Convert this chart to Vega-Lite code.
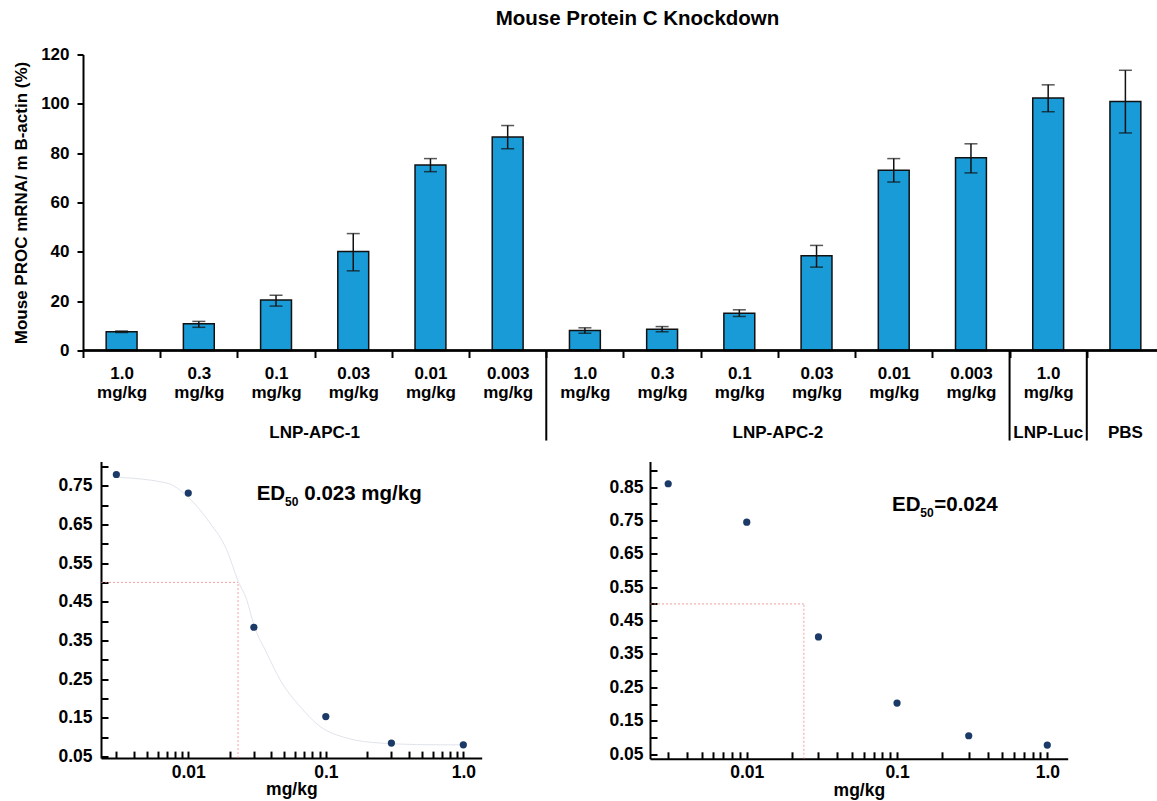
{
  "$schema": "https://vega.github.io/schema/vega-lite/v6.json",
  "padding": {"left": 12, "top": 8.5, "right": 0, "bottom": 0},
  "config": {
    "view": {"stroke": null},
    "font": "Liberation Sans",
    "axis": {"labelColor": "#000", "titleColor": "#000", "domainColor": "#000", "tickColor": "#000", "grid": false, "labelFontWeight": "bold", "titleFontWeight": "bold", "labelOverlap": false, "labelSeparation": 0},
    "axisQuantitative": {"labelOverlap": false}
  },
  "datasets": {
    "bars": [
      {"id": "APC1_1.0", "group": "LNP-APC-1", "dose": "1.0", "value": 7.6, "lo": 7.3, "hi": 7.9},
      {"id": "APC1_0.3", "group": "LNP-APC-1", "dose": "0.3", "value": 10.8, "lo": 9.4, "hi": 11.8},
      {"id": "APC1_0.1", "group": "LNP-APC-1", "dose": "0.1", "value": 20.5, "lo": 18.0, "hi": 22.4},
      {"id": "APC1_0.03", "group": "LNP-APC-1", "dose": "0.03", "value": 40.1, "lo": 32.3, "hi": 47.4},
      {"id": "APC1_0.01", "group": "LNP-APC-1", "dose": "0.01", "value": 75.2, "lo": 72.5, "hi": 77.8},
      {"id": "APC1_0.003", "group": "LNP-APC-1", "dose": "0.003", "value": 86.6, "lo": 81.8, "hi": 91.2},
      {"id": "APC2_1.0", "group": "LNP-APC-2", "dose": "1.0", "value": 8.1, "lo": 7.0, "hi": 9.2},
      {"id": "APC2_0.3", "group": "LNP-APC-2", "dose": "0.3", "value": 8.6, "lo": 7.6, "hi": 9.7},
      {"id": "APC2_0.1", "group": "LNP-APC-2", "dose": "0.1", "value": 15.1, "lo": 13.8, "hi": 16.5},
      {"id": "APC2_0.03", "group": "LNP-APC-2", "dose": "0.03", "value": 38.4, "lo": 33.8, "hi": 42.6},
      {"id": "APC2_0.01", "group": "LNP-APC-2", "dose": "0.01", "value": 73.1, "lo": 68.3, "hi": 77.8},
      {"id": "APC2_0.003", "group": "LNP-APC-2", "dose": "0.003", "value": 78.1, "lo": 72.0, "hi": 83.8},
      {"id": "Luc_1.0", "group": "LNP-Luc", "dose": "1.0", "value": 102.4, "lo": 96.8, "hi": 107.7},
      {"id": "PBS", "group": "PBS", "dose": "", "value": 100.9, "lo": 88.2, "hi": 113.6}
    ],
    "dividers": [{"id": "APC2_1.0"}, {"id": "Luc_1.0"}, {"id": "PBS"}],
    "groupsWide": [{"label": "LNP-APC-1", "id": "APC1_0.1"}, {"label": "LNP-APC-2", "id": "APC2_0.1"}],
    "groupsNarrow": [{"label": "LNP-Luc", "id": "Luc_1.0"}, {"label": "PBS", "id": "PBS"}],
    "fit1": [
      {"dose": 0.003, "resp": 0.772},
      {"dose": 0.00697, "resp": 0.757},
      {"dose": 0.01, "resp": 0.72},
      {"dose": 0.01439, "resp": 0.6535},
      {"dose": 0.01902, "resp": 0.5845},
      {"dose": 0.0231, "resp": 0.5025},
      {"dose": 0.0266, "resp": 0.4552},
      {"dose": 0.03, "resp": 0.39},
      {"dose": 0.0372, "resp": 0.3174},
      {"dose": 0.0465, "resp": 0.2483},
      {"dose": 0.0649, "resp": 0.179},
      {"dose": 0.0907, "resp": 0.1276},
      {"dose": 0.142, "resp": 0.0975},
      {"dose": 0.248, "resp": 0.0846},
      {"dose": 0.573, "resp": 0.0802},
      {"dose": 1.0, "resp": 0.0798}
    ],
    "pts1": [
      {"dose": 0.003, "resp": 0.779},
      {"dose": 0.01, "resp": 0.731},
      {"dose": 0.03, "resp": 0.384},
      {"dose": 0.1, "resp": 0.153},
      {"dose": 0.3, "resp": 0.0845},
      {"dose": 1.0, "resp": 0.080}
    ],
    "pts2": [
      {"dose": 0.003, "resp": 0.86},
      {"dose": 0.01, "resp": 0.745},
      {"dose": 0.03, "resp": 0.401},
      {"dose": 0.1, "resp": 0.203},
      {"dose": 0.3, "resp": 0.105},
      {"dose": 1.0, "resp": 0.077}
    ],
    "ed1": [{"ed50": 0.023, "half": 0.5, "xmin": 0.00232, "ymin": 0.0456}],
    "ed2": [{"ed50": 0.024, "half": 0.5, "xmin": 0.00227, "ymin": 0.0359}],
    "ann1Big": [{"x": 0.03144, "y": 0.7138, "t": "ED"}, {"x": 0.0698, "y": 0.7138, "t": "0.023 mg/kg"}],
    "ann1Sub": [{"x": 0.0505, "y": 0.6965, "t": "50"}],
    "ann2Big": [{"x": 0.09262, "y": 0.779, "t": "ED"}, {"x": 0.177, "y": 0.779, "t": "=0.024"}],
    "ann2Sub": [{"x": 0.1429, "y": 0.760, "t": "50"}]
  },
  "spacing": 14,
  "vconcat": [
    {
      "width": 1074,
      "height": 296,
      "title": {"text": "Mouse Protein C Knockdown", "fontSize": 20.5, "fontWeight": "bold", "color": "#000", "frame": "group", "anchor": "middle", "dx": 17.5, "offset": 16},
      "layer": [
        {
          "data": {"name": "bars"},
          "mark": {"type": "bar", "width": {"band": 0.4}, "fill": "#189bd7", "stroke": "#111", "strokeWidth": 1.5},
          "encoding": {
            "x": {
              "field": "id", "type": "nominal", "sort": null,
              "scale": {"domain": ["APC1_1.0", "APC1_0.3", "APC1_0.1", "APC1_0.03", "APC1_0.01", "APC1_0.003", "APC2_1.0", "APC2_0.3", "APC2_0.1", "APC2_0.03", "APC2_0.01", "APC2_0.003", "Luc_1.0", "PBS"], "range": [0, 1081], "paddingInner": 0, "paddingOuter": 0},
              "axis": {"title": null, "orient": "bottom", "ticks": true, "tickBand": "extent", "tickSize": 7, "tickWidth": 2, "domain": false, "labelAngle": 0, "labelFontSize": 17, "labelPadding": 8, "labelLineHeight": 19, "labelFlush": false, "labelOverlap": false,
                "values": ["APC1_1.0", "APC1_0.3", "APC1_0.1", "APC1_0.03", "APC1_0.01", "APC1_0.003", "APC2_1.0", "APC2_0.3", "APC2_0.1", "APC2_0.03", "APC2_0.01", "APC2_0.003", "Luc_1.0"],
                "labelExpr": "isString(datum.value) && indexof(datum.value, '_') >= 0 ? [split(datum.value, '_')[1], 'mg/kg'] : ''"}
            },
            "y": {
              "field": "value", "type": "quantitative",
              "scale": {"domain": [0, 120], "nice": false},
              "axis": {"title": "Mouse PROC mRNA/ m B-actin (%)", "titleFontSize": 17, "titlePadding": 10, "values": [0, 20, 40, 60, 80, 100, 120], "tickCount": 100, "labelFontSize": 17, "tickSize": 6, "tickWidth": 2, "domainWidth": 2, "labelPadding": 8}
            }
          }
        },
        {
          "data": {"name": "bars"},
          "mark": {"type": "rule", "color": "#111", "strokeWidth": 1.5},
          "encoding": {
            "x": {"field": "id", "type": "nominal"},
            "y": {"field": "lo", "type": "quantitative"},
            "y2": {"field": "hi"}
          }
        },
        {
          "data": {"name": "bars"},
          "mark": {"type": "tick", "color": "#111", "size": 13, "thickness": 1.5},
          "encoding": {
            "x": {"field": "id", "type": "nominal"},
            "y": {"field": "lo", "type": "quantitative"}
          }
        },
        {
          "data": {"name": "bars"},
          "mark": {"type": "tick", "color": "#111", "size": 13, "thickness": 1.5},
          "encoding": {
            "x": {"field": "id", "type": "nominal"},
            "y": {"field": "hi", "type": "quantitative"}
          }
        },
        {
          "data": {"name": "dividers"},
          "mark": {"type": "rule", "color": "#000", "strokeWidth": 2},
          "encoding": {"y": {"datum": 0}}
        },
        {
          "data": {"name": "dividers"},
          "mark": {"type": "rule", "color": "#000", "strokeWidth": 2},
          "encoding": {
            "x": {"field": "id", "type": "nominal", "bandPosition": 0},
            "y": {"datum": 0},
            "y2": {"datum": -36.5}
          }
        },
        {
          "data": {"name": "groupsWide"},
          "mark": {"type": "text", "fontSize": 17, "fontWeight": "bold", "color": "#000", "baseline": "alphabetic", "align": "center"},
          "encoding": {
            "x": {"field": "id", "type": "nominal", "bandPosition": 1},
            "y": {"datum": -35.3},
            "text": {"field": "label"}
          }
        },
        {
          "data": {"name": "groupsNarrow"},
          "mark": {"type": "text", "fontSize": 17, "fontWeight": "bold", "color": "#000", "baseline": "alphabetic", "align": "center"},
          "encoding": {
            "x": {"field": "id", "type": "nominal", "bandPosition": 0.5},
            "y": {"datum": -35.3},
            "text": {"field": "label"}
          }
        }
      ]
    },
    {
      "spacing": 126,
      "hconcat": [
        {
          "width": 398.7,
          "height": 296.6,
          "layer": [
            {
              "data": {"name": "fit1"},
              "mark": {"type": "line", "color": "#e1e4ec", "strokeWidth": 1, "interpolate": "monotone"},
              "encoding": {
                "x": {"field": "dose", "type": "quantitative",
                  "scale": {"type": "log", "domain": [0.00232, 1.36], "nice": false, "range": [18, 398.7]},
                  "axis": {"title": "mg/kg", "titleFontSize": 17.5, "titlePadding": 0, "labelFontSize": 17.5, "tickSize": -7, "tickWidth": 2, "domainWidth": 2, "labelPadding": 12, "labelOverlap": false, "labelFlush": false, "tickCount": 100,
                    "values": [0.003, 0.004, 0.005, 0.006, 0.007, 0.008, 0.009, 0.01, 0.02, 0.03, 0.04, 0.05, 0.06, 0.07, 0.08, 0.09, 0.1, 0.2, 0.3, 0.4, 0.5, 0.6, 0.7, 0.8, 0.9, 1],
                    "labelExpr": "datum.value == 0.01 ? '0.01' : datum.value == 0.1 ? '0.1' : datum.value == 1 ? '1.0' : ''"}},
                "y": {"field": "resp", "type": "quantitative",
                  "scale": {"domain": [0.0456, 0.8126], "nice": false, "zero": false},
                  "axis": {"title": null, "offset": -18, "labelFontSize": 17.5, "tickSize": -7, "tickWidth": 2, "domainWidth": 2, "labelPadding": 16, "labelOverlap": false, "labelFlush": false, "labelBound": false, "tickCount": 100,
                    "values": [0.05, 0.1, 0.15, 0.2, 0.25, 0.3, 0.35, 0.4, 0.45, 0.5, 0.55, 0.6, 0.65, 0.7, 0.75, 0.8],
                    "labelExpr": "indexof(['0.05','0.15','0.25','0.35','0.45','0.55','0.65','0.75','0.85'], format(datum.value, '.2f')) >= 0 ? format(datum.value, '.2f') : ''"}}
              }
            },
            {
              "data": {"name": "ed1"},
              "mark": {"type": "rule", "color": "#f07878", "strokeWidth": 1, "strokeDash": [2, 2], "opacity": 0.7},
              "encoding": {
                "x": {"field": "xmin", "type": "quantitative"},
                "x2": {"field": "ed50"},
                "y": {"field": "half", "type": "quantitative"}
              }
            },
            {
              "data": {"name": "ed1"},
              "mark": {"type": "rule", "color": "#f07878", "strokeWidth": 1, "strokeDash": [2, 2], "opacity": 0.7},
              "encoding": {
                "x": {"field": "ed50", "type": "quantitative"},
                "y": {"field": "ymin", "type": "quantitative"},
                "y2": {"field": "half"}
              }
            },
            {
              "data": {"name": "pts1"},
              "mark": {"type": "circle", "color": "#1b3a68", "size": 52, "opacity": 1},
              "encoding": {
                "x": {"field": "dose", "type": "quantitative"},
                "y": {"field": "resp", "type": "quantitative"}
              }
            },
            {
              "data": {"name": "ann1Big"},
              "mark": {"type": "text", "fontSize": 20.5, "fontWeight": "bold", "color": "#000", "align": "left", "baseline": "alphabetic"},
              "encoding": {
                "x": {"field": "x", "type": "quantitative"},
                "y": {"field": "y", "type": "quantitative"},
                "text": {"field": "t"}
              }
            },
            {
              "data": {"name": "ann1Sub"},
              "mark": {"type": "text", "fontSize": 12, "fontWeight": "bold", "color": "#000", "align": "left", "baseline": "alphabetic"},
              "encoding": {
                "x": {"field": "x", "type": "quantitative"},
                "y": {"field": "y", "type": "quantitative"},
                "text": {"field": "t"}
              }
            }
          ]
        },
        {
          "width": 417.7,
          "height": 297.3,
          "layer": [
            {
              "data": {"name": "pts2"},
              "mark": {"type": "circle", "color": "#1b3a68", "size": 52, "opacity": 1},
              "encoding": {
                "x": {"field": "dose", "type": "quantitative",
                  "scale": {"type": "log", "domain": [0.00227, 1.367], "nice": false},
                  "axis": {"title": "mg/kg", "titleFontSize": 17.5, "titlePadding": 0, "labelFontSize": 17.5, "tickSize": -7, "tickWidth": 2, "domainWidth": 2, "labelPadding": 12, "labelOverlap": false, "labelFlush": false, "tickCount": 100,
                    "values": [0.003, 0.004, 0.005, 0.006, 0.007, 0.008, 0.009, 0.01, 0.02, 0.03, 0.04, 0.05, 0.06, 0.07, 0.08, 0.09, 0.1, 0.2, 0.3, 0.4, 0.5, 0.6, 0.7, 0.8, 0.9, 1],
                    "labelExpr": "datum.value == 0.01 ? '0.01' : datum.value == 0.1 ? '0.1' : datum.value == 1 ? '1.0' : ''"}},
                "y": {"field": "resp", "type": "quantitative",
                  "scale": {"domain": [0.0359, 0.9267], "nice": false, "zero": false},
                  "axis": {"title": null, "labelFontSize": 17.5, "tickSize": -7, "tickWidth": 2, "domainWidth": 2, "labelPadding": 14, "labelOverlap": false, "labelFlush": false, "labelBound": false, "tickCount": 100,
                    "values": [0.05, 0.1, 0.15, 0.2, 0.25, 0.3, 0.35, 0.4, 0.45, 0.5, 0.55, 0.6, 0.65, 0.7, 0.75, 0.8, 0.85, 0.9],
                    "labelExpr": "indexof(['0.05','0.15','0.25','0.35','0.45','0.55','0.65','0.75','0.85'], format(datum.value, '.2f')) >= 0 ? format(datum.value, '.2f') : ''"}}
              }
            },
            {
              "data": {"name": "ed2"},
              "mark": {"type": "rule", "color": "#f07878", "strokeWidth": 1, "strokeDash": [2, 2], "opacity": 0.7},
              "encoding": {
                "x": {"field": "xmin", "type": "quantitative"},
                "x2": {"field": "ed50"},
                "y": {"field": "half", "type": "quantitative"}
              }
            },
            {
              "data": {"name": "ed2"},
              "mark": {"type": "rule", "color": "#f07878", "strokeWidth": 1, "strokeDash": [2, 2], "opacity": 0.7},
              "encoding": {
                "x": {"field": "ed50", "type": "quantitative"},
                "y": {"field": "ymin", "type": "quantitative"},
                "y2": {"field": "half"}
              }
            },
            {
              "data": {"name": "ann2Big"},
              "mark": {"type": "text", "fontSize": 20.5, "fontWeight": "bold", "color": "#000", "align": "left", "baseline": "alphabetic"},
              "encoding": {
                "x": {"field": "x", "type": "quantitative"},
                "y": {"field": "y", "type": "quantitative"},
                "text": {"field": "t"}
              }
            },
            {
              "data": {"name": "ann2Sub"},
              "mark": {"type": "text", "fontSize": 12, "fontWeight": "bold", "color": "#000", "align": "left", "baseline": "alphabetic"},
              "encoding": {
                "x": {"field": "x", "type": "quantitative"},
                "y": {"field": "y", "type": "quantitative"},
                "text": {"field": "t"}
              }
            }
          ]
        }
      ]
    }
  ]
}
